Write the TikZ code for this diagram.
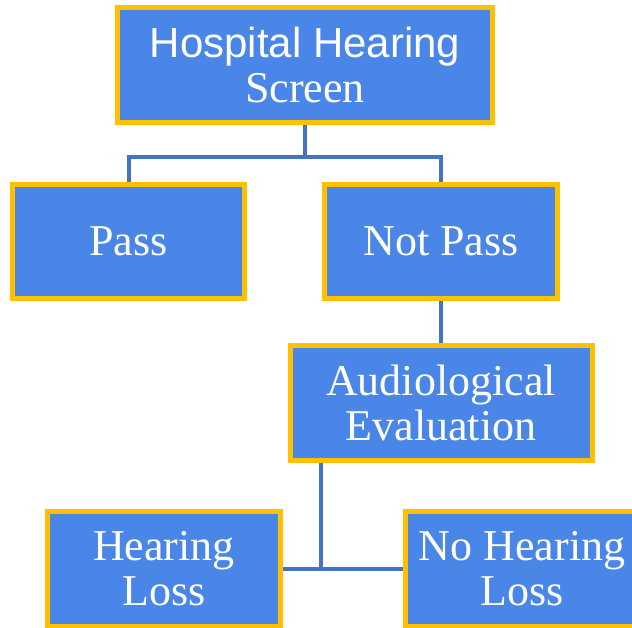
\documentclass[tikz,border=0pt]{standalone}
\usepackage{fontspec}
\setmainfont{Liberation Serif}
\newfontfamily\arialfont{Liberation Sans}
\usepackage{tikz}
\usetikzlibrary{positioning}

\definecolor{boxblue}{HTML}{4A86E8}
\definecolor{boxgold}{HTML}{FFC000}
\definecolor{linkblue}{HTML}{4472C4}

\begin{document}
\begin{tikzpicture}[x=1pt,y=-1pt,
  box/.style={draw=boxgold, line width=5pt, fill=boxblue, text=white,
              align=center, inner sep=0pt,
              font=\fontsize{44pt}{45pt}\selectfont},
  link/.style={draw=linkblue, line width=4pt}]

\useasboundingbox (0,0) rectangle (632,628);

% Nodes
  \node[box, minimum width=375pt, minimum height=115pt] at (305,65)
        (Hospital) {{\arialfont\fontsize{42pt}{45pt}\selectfont Hospital Hearing}\\Screen};
  \node[box, minimum width=232pt, minimum height=114pt] at (128.5,241.5)
        (Pass) {Pass};
  \node[box, minimum width=233pt, minimum height=114pt, right=75pt of Pass]
        (NotPass) {Not Pass};
  \node[box, minimum width=302pt, minimum height=115pt, below=42pt of NotPass]
        (Audio) {Audiological\\Evaluation};
  \node[box, minimum width=233pt, minimum height=115pt] at (164,569)
        (HearLoss) {Hearing\\Loss};
  \node[box, minimum width=233pt, minimum height=115pt, right=120pt of HearLoss]
        (NoHearLoss) {No Hearing\\Loss};

% Edges
  \draw[link] (Hospital.south) -- ++(0,32) coordinate (fork);
  \draw[link] (Pass.north) |- (fork) -| (NotPass.north);
  \draw[link] (NotPass.south) -- (Audio.north);
  \draw[link] (HearLoss.east) -- (NoHearLoss.west);
  \draw[link] ([xshift=33pt]Audio.south west) coordinate (drop)
        -- (drop |- HearLoss.east);

\end{tikzpicture}
\end{document}
